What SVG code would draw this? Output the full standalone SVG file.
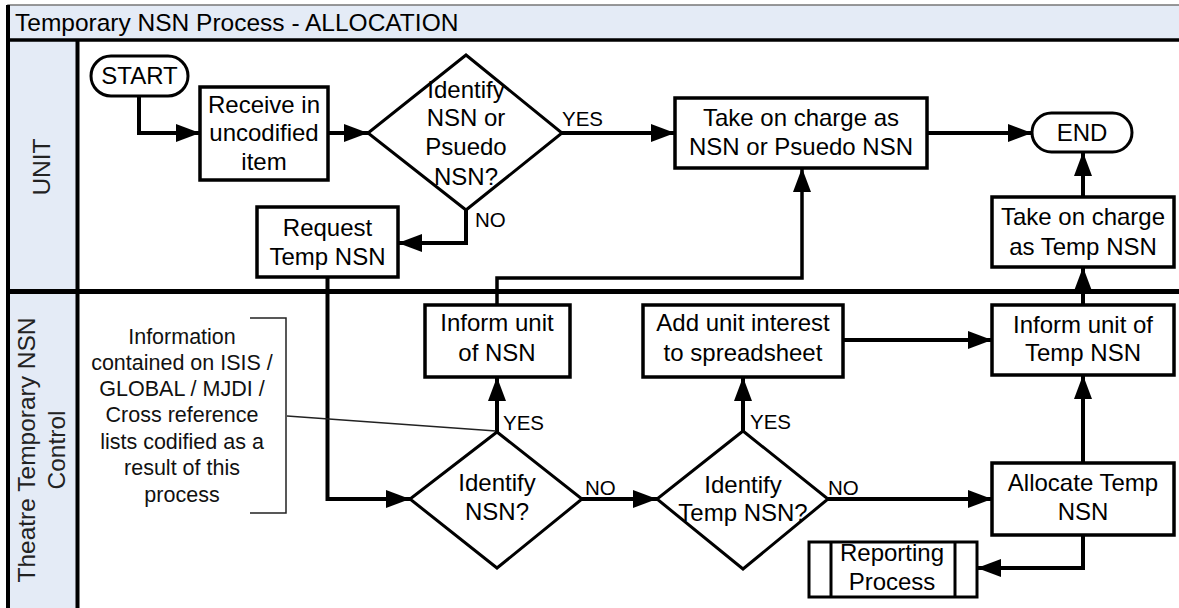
<svg xmlns="http://www.w3.org/2000/svg" width="1179" height="608" viewBox="0 0 1179 608">
<style>
text{font-family:"Liberation Sans",Arial,sans-serif;fill:#000}
.t{font-size:24px;text-anchor:middle}
.lbl{font-size:20.5px}
.ann{font-size:21.5px;text-anchor:middle;fill:#111}
.lane{font-size:24.5px;text-anchor:middle;fill:#222}
.box{fill:#fff;stroke:#000;stroke-width:3.5}
.dia{fill:#fff;stroke:#000;stroke-width:3}
.con{fill:none;stroke:#000;stroke-width:4}
.thin{fill:none;stroke:#222;stroke-width:1.5}
</style>
<defs>
<marker id="ah" markerUnits="userSpaceOnUse" markerWidth="24" markerHeight="18" refX="24" refY="9" orient="auto">
<path d="M0,0 L24,9 L0,18 z" fill="#000"/>
</marker>
</defs>
<rect width="1179" height="608" fill="#fff"/>
<g id="frame">
<rect x="8" y="5" width="1180" height="35" fill="#E4EBF6" stroke="#777" stroke-width="1.5"/>
<rect x="8" y="40" width="69" height="570" fill="#E4EBF6"/>
<line x1="8" y1="5" x2="8" y2="608" stroke="#000" stroke-width="4"/>
<line x1="8" y1="40" x2="1179" y2="40" stroke="#000" stroke-width="3.5"/>
<line x1="77.5" y1="40" x2="77.5" y2="608" stroke="#000" stroke-width="4"/>
<line x1="8" y1="291.5" x2="1179" y2="291.5" stroke="#000" stroke-width="5"/>
<text x="15" y="31" style="font-size:24.5px">Temporary NSN Process - ALLOCATION</text>
<text class="lane" transform="translate(50,167) rotate(-90)">UNIT</text>
<text class="lane" transform="translate(35,450) rotate(-90)">Theatre Temporary NSN</text>
<text class="lane" transform="translate(65,450) rotate(-90)">Control</text>
</g>
<g id="connectors">
<path class="con" d="M139,96 V133 H200" marker-end="url(#ah)"/>
<path class="con" d="M328,133 H368" marker-end="url(#ah)"/>
<path class="con" d="M562,133 H675" marker-end="url(#ah)"/>
<path class="con" d="M466,210 V243 H398" marker-end="url(#ah)"/>
<path class="con" d="M927,133 H1032" marker-end="url(#ah)"/>
<path class="con" d="M1083,197 V152" marker-end="url(#ah)"/>
<path class="con" d="M327.5,277 V499 H410" marker-end="url(#ah)"/>
<path class="con" style="stroke-width:3.5" d="M497,305 V278 H802 V168" marker-end="url(#ah)"/>
<path class="con" d="M497,432 V377" marker-end="url(#ah)"/>
<path class="con" d="M582,499 H657" marker-end="url(#ah)"/>
<path class="con" d="M743,431 V377" marker-end="url(#ah)"/>
<path class="con" d="M828,499 H992" marker-end="url(#ah)"/>
<path class="con" d="M843,340 H992" marker-end="url(#ah)"/>
<path class="con" d="M1083,463 V375" marker-end="url(#ah)"/>
<path class="con" d="M1083,305 V267" marker-end="url(#ah)"/>
<path class="con" d="M1083,535 V568 H977" marker-end="url(#ah)"/>
<path class="thin" d="M287,416 L496,431"/>
<text class="lbl" x="562" y="126">YES</text>
<text class="lbl" x="475" y="227">NO</text>
<text class="lbl" x="503" y="430">YES</text>
<text class="lbl" x="750" y="429">YES</text>
<text class="lbl" x="585" y="495">NO</text>
<text class="lbl" x="828" y="495">NO</text>
</g>
<g id="start">
<rect class="box" x="91" y="56" width="97" height="40" rx="20" style="stroke-width:3"/>
<text class="t" x="139.5" y="84">START</text>
</g>
<g id="receive">
<rect class="box" x="200" y="87" width="128" height="93"/>
<text class="t" x="264" y="113">Receive in</text>
<text class="t" x="264" y="141">uncodified</text>
<text class="t" x="264" y="170">item</text>
</g>
<g id="identify-nsn-pseudo">
<polygon class="dia" points="466,55 562,133 466,210 368,133"/>
<text class="t" x="466" y="98">Identify</text>
<text class="t" x="466" y="126">NSN or</text>
<text class="t" x="466" y="155">Psuedo</text>
<text class="t" x="466" y="185">NSN?</text>
</g>
<g id="request">
<rect class="box" x="257" y="207" width="141" height="70"/>
<text class="t" x="327.5" y="236">Request</text>
<text class="t" x="327.5" y="265">Temp NSN</text>
</g>
<g id="take-nsn">
<rect class="box" x="675" y="98" width="252" height="70"/>
<text class="t" x="801" y="126">Take on charge as</text>
<text class="t" x="801" y="155">NSN or Psuedo NSN</text>
</g>
<g id="end">
<rect class="box" x="1032" y="113" width="100" height="39" rx="19.5" style="stroke-width:3"/>
<text class="t" x="1082" y="141">END</text>
</g>
<g id="take-temp">
<rect class="box" x="992" y="197" width="182" height="70"/>
<text class="t" x="1083" y="225">Take on charge</text>
<text class="t" x="1083" y="255">as Temp NSN</text>
</g>
<g id="annotation">
<path class="thin" d="M250,318 H286 V513 H250"/>
<text class="ann" x="182" y="344">Information</text>
<text class="ann" x="182" y="370">contained on ISIS /</text>
<text class="ann" x="182" y="396">GLOBAL / MJDI /</text>
<text class="ann" x="182" y="422">Cross reference</text>
<text class="ann" x="182" y="449">lists codified as a</text>
<text class="ann" x="182" y="475">result of this</text>
<text class="ann" x="182" y="502">process</text>
</g>
<g id="inform-nsn">
<rect class="box" x="425" y="305" width="145" height="72"/>
<text class="t" x="497" y="331">Inform unit</text>
<text class="t" x="497" y="361">of NSN</text>
</g>
<g id="add-interest">
<rect class="box" x="643" y="305" width="200" height="72"/>
<text class="t" x="743" y="331">Add unit interest</text>
<text class="t" x="743" y="361">to spreadsheet</text>
</g>
<g id="inform-temp">
<rect class="box" x="992" y="305" width="182" height="70"/>
<text class="t" x="1083" y="333">Inform unit of</text>
<text class="t" x="1083" y="361">Temp NSN</text>
</g>
<g id="identify-nsn">
<polygon class="dia" points="497,432 582,499 497,568 410,499"/>
<text class="t" x="497" y="491">Identify</text>
<text class="t" x="497" y="520">NSN?</text>
</g>
<g id="identify-temp">
<polygon class="dia" points="743,431 828,499 743,569 657,499"/>
<text class="t" x="743" y="493">Identify</text>
<text class="t" x="743" y="521">Temp NSN?</text>
</g>
<g id="allocate">
<rect class="box" x="992" y="463" width="182" height="72"/>
<text class="t" x="1083" y="491">Allocate Temp</text>
<text class="t" x="1083" y="520">NSN</text>
</g>
<g id="reporting">
<rect class="box" x="809" y="542" width="168" height="55" style="stroke-width:3"/>
<line x1="831" y1="542" x2="831" y2="597" stroke="#000" stroke-width="3"/>
<line x1="955" y1="542" x2="955" y2="597" stroke="#000" stroke-width="3"/>
<text class="t" x="892" y="561">Reporting</text>
<text class="t" x="892" y="590">Process</text>
</g>
</svg>
